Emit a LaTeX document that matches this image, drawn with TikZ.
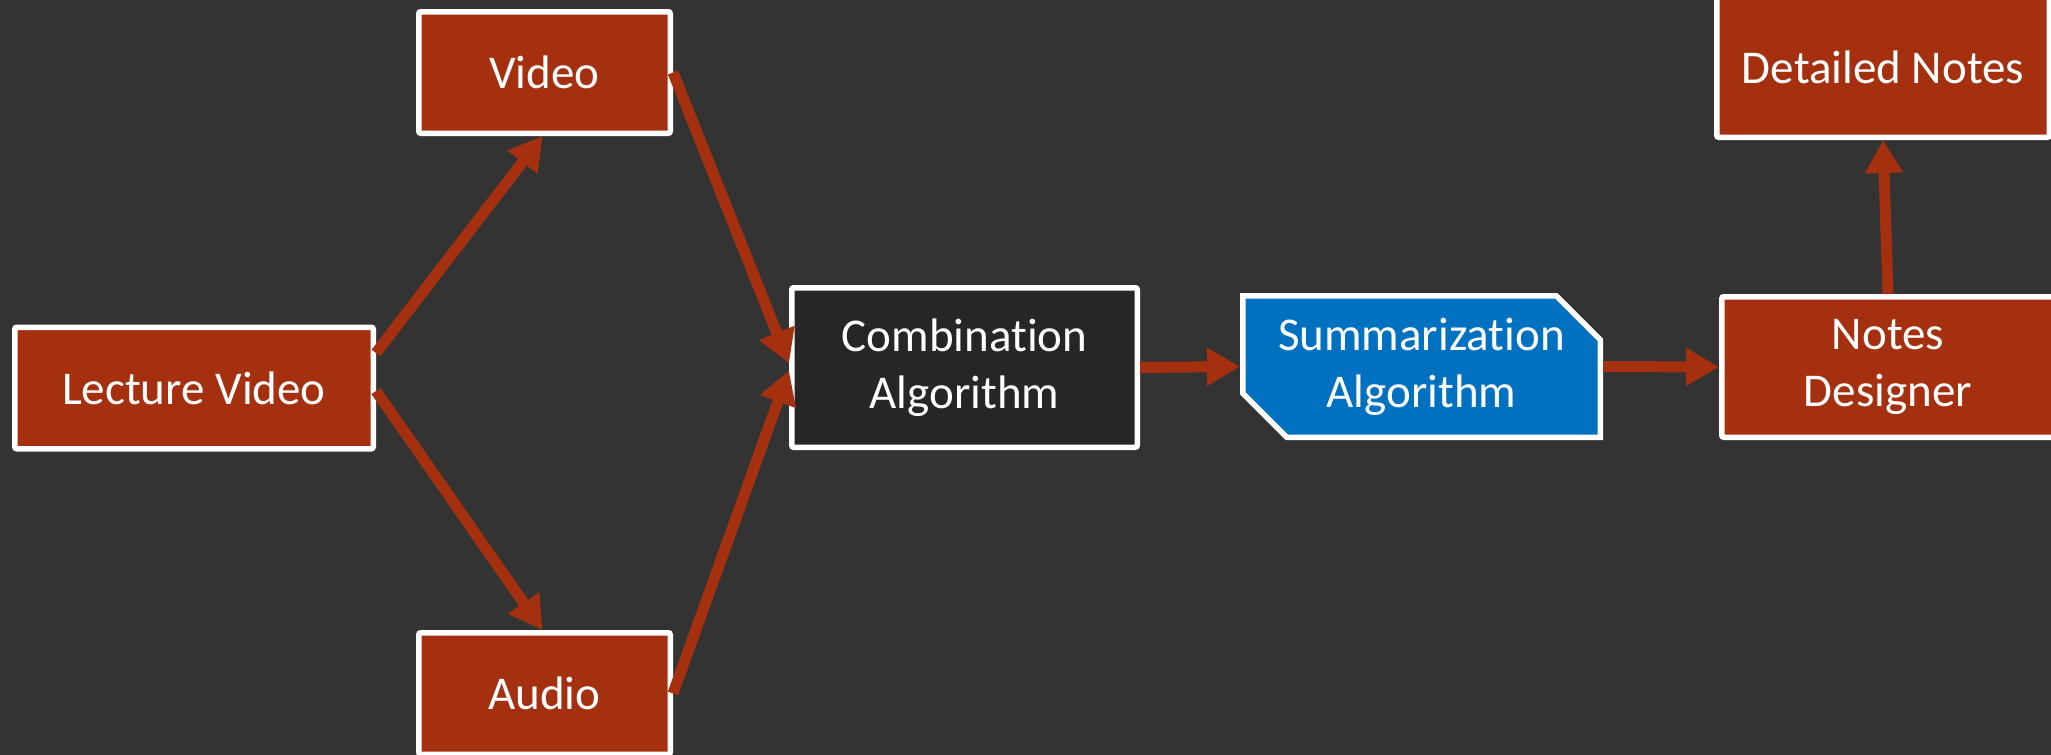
\documentclass[tikz,border=0pt]{standalone}
\usepackage{fontspec}
\setmainfont[Ligatures=NoCommon]{Carlito}
\usetikzlibrary{arrows.meta,shapes.misc}

\definecolor{bg}{HTML}{333333}
\definecolor{rust}{HTML}{A5300F}
\definecolor{coal}{HTML}{262626}
\definecolor{azure}{HTML}{0070C0}

\tikzset{
  box/.style={draw=white, line width=5.5pt, rounded corners=2pt,
    text=white, align=center, inner sep=0pt,
    font=\fontsize{47}{57}\selectfont},
  redbox/.style={box, fill=rust},
  conn/.style={draw=rust, line width=11pt,
    -{Triangle[width=36pt,length=33pt]}},
}

\begin{document}
\begin{tikzpicture}[x=1pt,y=-1pt]
  \path[use as bounding box, fill=bg] (0,0) rectangle (2051,755);

  \node[redbox, minimum width=358.5pt, minimum height=121.5pt] (lv) at (194,388) {Lecture Video};
  \node[redbox, minimum width=251.5pt, minimum height=121.5pt] (video) at (544.5,72.5) {Video};
  \node[redbox, minimum width=251.5pt, minimum height=121.5pt] (audio) at (544.5,693.5) {Audio};
  \node[box, fill=coal, minimum width=345.5pt, minimum height=159.5pt] (comb) at (964.5,367.5) {Combination\\Algorithm};
  \node[box, fill=azure, rounded corners=0pt, chamfered rectangle,
        chamfered rectangle corners={north east,south west},
        chamfered rectangle xsep=22pt, chamfered rectangle ysep=22pt,
        minimum width=357.5pt, minimum height=141.5pt] (summ) at (1421.5,366.5) {Summarization\\Algorithm};
  \node[redbox, minimum width=332.5pt, minimum height=140.5pt] (notes) at (1888,367) {Notes\\Designer};
  \node[redbox, minimum width=332.5pt, minimum height=140.5pt] (detailed) at (1883,67) {Detailed Notes};

  \draw[conn] ([yshift=35pt]lv.east) -- ([xshift=-2pt]video.south);
  \draw[conn] ([yshift=-3pt]lv.east) -- ([xshift=-2pt]audio.north);
  \draw[conn] (video.east) -- ([yshift=4pt]comb.west);
  \draw[conn] (audio.east) -- ([yshift=-3pt]comb.west);
  \draw[conn] (comb.east) -- (summ.west);
  \draw[conn] (summ.east) -- (notes.west);
  \draw[conn] (notes.north) -- (detailed.south);
\end{tikzpicture}
\end{document}
